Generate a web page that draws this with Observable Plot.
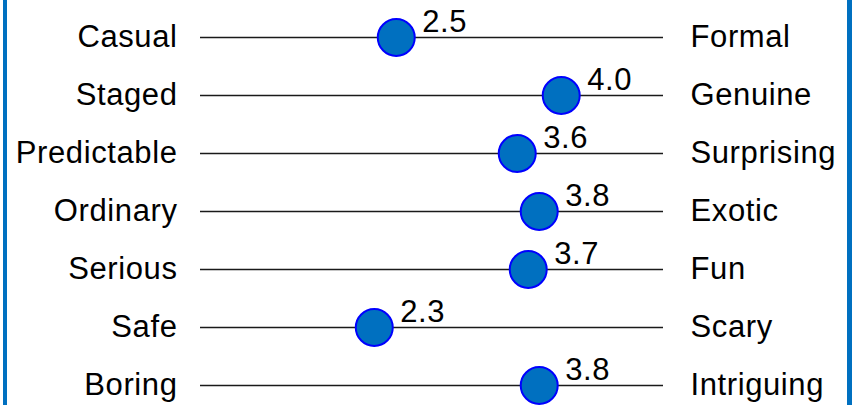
<!DOCTYPE html>
<html>
<head>
<meta charset="utf-8">
<script src="https://cdn.jsdelivr.net/npm/d3@7"></script>
<script src="https://cdn.jsdelivr.net/npm/@observablehq/plot@0.6"></script>
<style>
  html, body { margin: 0; padding: 0; background: #fff; overflow: hidden; }
  #wrap { position: relative; width: 852px; height: 405px; }
  .edge { position: absolute; top: 0; height: 405px; background: #0070C0; }
  #edgeL { left: 3px; width: 4px; }
  #edgeR { left: 847px; width: 5px; }
  #chart svg { display: block; }
  #chart svg text { letter-spacing: 0.6px; }
</style>
</head>
<body>
<div id="wrap">
  <div id="chart"></div>
  <div class="edge" id="edgeL"></div>
  <div class="edge" id="edgeR"></div>
</div>
<script>
const leftLabels  = ["Casual", "Staged", "Predictable", "Ordinary", "Serious", "Safe", "Boring"];
const rightLabels = ["Formal", "Genuine", "Surprising", "Exotic", "Fun", "Scary", "Intriguing"];
const scores      = [2.5, 4.0, 3.6, 3.8, 3.7, 2.3, 3.8];

const rows = leftLabels.map((l, i) => ({left: l, right: rightLabels[i], score: scores[i]}));

const font = "'Liberation Sans', Arial, Helvetica, sans-serif";

const chart = Plot.plot({
  width: 852,
  height: 405,
  marginLeft: 200,
  marginRight: 189,
  marginTop: 34,
  marginBottom: 18,
  style: {fontFamily: font, background: "white", overflow: "visible"},
  x: {domain: [0.72, 4.93], axis: null},
  y: {type: "point", domain: leftLabels, axis: null, padding: 0},
  marks: [
    Plot.ruleY(rows, {y: "left", stroke: "#1a1a1a", strokeWidth: 1.4}),
    Plot.text(rows, {y: "left", text: "left", frameAnchor: "left", textAnchor: "end", dx: -23, fontSize: 31, fill: "#000"}),
    Plot.text(rows, {y: "left", text: "right", frameAnchor: "right", textAnchor: "start", dx: 27, fontSize: 31, fill: "#000"}),
    Plot.dot(rows, {x: "score", y: "left", r: 18.5, fill: "#0070C0", stroke: "#0000FF", strokeWidth: 2}),
    Plot.text(rows, {x: "score", y: "left", text: d => d.score.toFixed(1), textAnchor: "start", lineAnchor: "bottom", dx: 26, dy: -6, fontSize: 31, fill: "#000"})
  ]
});
document.getElementById("chart").appendChild(chart);
</script>
</body>
</html>
